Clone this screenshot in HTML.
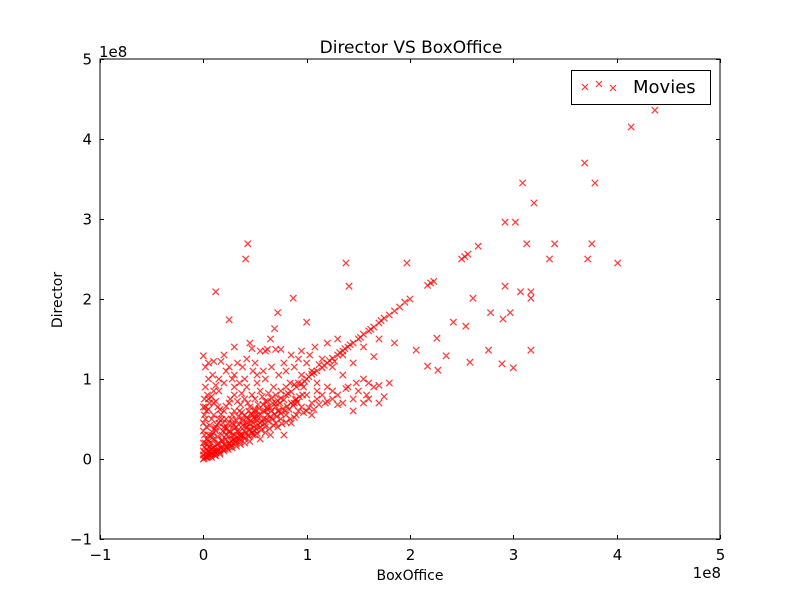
<!DOCTYPE html>
<html><head><meta charset="utf-8"><style>
html,body{margin:0;padding:0;background:#fff;}
svg{display:block;font-family:"DejaVu Sans","Liberation Sans",sans-serif;}
</style></head><body>
<svg id="chart" width="800" height="600" viewBox="0 0 800 600">
<rect x="0" y="0" width="800" height="600" fill="#fff"/>
<text x="411" y="53" font-size="17" text-anchor="middle">Director VS BoxOffice</text>
<text x="410" y="580" font-size="14" text-anchor="middle">BoxOffice</text>
<text x="62" y="300" font-size="14" text-anchor="middle" transform="rotate(-90 62 300)">Director</text>
<text x="99" y="57" font-size="15">1e8</text>
<text x="721" y="578" font-size="15" text-anchor="end">1e8</text>
<g id="marks"></g>
<g id="axes"></g>
<g>
<rect x="571.5" y="70.5" width="139" height="34" fill="#fff" stroke="#000" stroke-width="1"/>
<g stroke="#f00" stroke-opacity="0.8" stroke-width="1.2">
<path d="M582 84l6 6M588 84l-6 6M596 81l6 6M602 81l-6 6M610 85l6 6M616 85l-6 6"/>
</g>
<text x="633" y="93" font-size="18">Movies</text>
</g>
</svg>
<script>
const xTicks=[-1,0,1,2,3,4,5];
const yTicks=[-1,0,1,2,3,4,5];
const boxOffice=[4.37,4.14,3.69,3.09,3.79,3.20,2.92,3.02,3.40,3.13,3.76,3.35,3.72,4.01,2.66,0.43,0.41,1.38,1.97,2.92,3.17,3.07,2.90,2.97,3.17,2.61,2.78,0.12,0.87,1.41,2.54,2.42,2.26,2.35,2.58,2.76,3.17,2.89,3.00,2.17,2.27,2.06,0.25,0.72,0.69,1.00,2.50,2.53,2.56,2.2,2.17,2.23,2.0,1.95,
0.3,0.35,0.4,0.45,0.5,0.55,0.6,0.65,0.7,0.75,0.8,0.85,0.9,0.95,1.0,1.05,1.1,1.15,1.2,1.25,1.3,1.35,1.4,1.45,1.5,1.55,1.6,1.65,1.7,1.75,1.8,1.85,1.9,0.92,0.98,1.12,0.88,
0.0,0.02,0.05,0.1,0.17,0.22,0.3,0.38,0.45,0.47,0.55,0.6,0.62,0.7,0.75,0.65,0.4,0.28,0.12,0.35,0.52,0.85,0.92,1.0,1.08,1.2,1.3,1.35,1.45,1.55,1.7,1.65,1.55,1.6,1.7,1.85,1.05,1.1,0.95,0.3,0.2,0.5,0.78,1.35,1.15,1.25,
0.5,0.6,0.7,0.75,0.8,0.9,1.0,1.05,1.1,1.2,1.3,1.35,1.45,1.5,1.6,1.7,1.75,1.4,1.25,1.15,1.05,0.95,0.85,0.65,0.55,0.45,1.45,1.3,0.78,0.88,
0.2,0.1,0.05,0.15,0.25,0.3,0.35,0.4,0.45,0.5,0.55,0.6,0.68,0.72,0.3,0.2,0.08,0.12,0.18,0.28,0.38,0.42,0.48,0.58,0.62,0.05,0.02,0.08,0.7,0.9,
0,0.01,0.02,0.03,0.05,0.04,0.08,0.1,0.12,0.06,0.15,0.15,0.2,0.22,0.25,0.1,0.05,0.02,0.18,0.28,0.3,0.35,0.25,0.12,0.2,0.32,0.4,0.38,0.28,0.15,0.03,0.0,0.0,0.01,0.02,0.08,0.13,0.18,0.24,0.27,0.33,0.36,0.42,0.45,0.48,0.52,0.55,0.58,0.62,0.66,0.07,0.11,0.16,0.21,0.26,0.31,0.35,0.4,0.04,0.09,0.14,0.19,0.23,0.0,0.01,0.03,0.06,0.1,0.16,0.22,0.3,0.36,0.44,0.5,0.02,0.04,0.1,0.5,
0.05,0.07,0.09,0.11,0.13,0.15,0.17,0.19,0.21,0.23,0.25,0.27,0.29,0.31,0.33,0.35,0.37,0.39,0.41,0.43,0.45,0.47,0.49,0.51,0.53,0.55,0.57,0.59,0.61,0.63,0.65,0.67,0.69,0.71,0.73,0.75,0.77,0.79,0.81,0.83,0.85,0.87,0.89,0.91,0.93,0.96,
0.06,0.1,0.14,0.18,0.22,0.26,0.3,0.34,0.38,0.42,0.46,0.5,0.54,0.58,0.62,0.66,0.7,0.74,0.78,
0.02,0.03,0.04,0.05,0.07,0.09,0.11,0.13,0.15,0.17,0.19,0.21,0.24,0.27,0.29,0.32,0.34,0.37,0.4,0.43,0.46,0.49,0.52,
0.0,0.0,0.01,0.0,0.01,0.03,0.06,0.08,0.12,0.14,0.22,0.26,0.33,0.37,0.43,0.47,0.53,0.57,0.63,0.67,0.75,0.8,0.84,
0.08,0.12,0.16,0.2,0.24,0.28,0.32,0.36,0.4,0.44,0.48,0.52,0.56,0.6,0.64,0.68,0.72,0.76,0.8,0.84,0.88,0.92,0.97,1.02,1.07,1.12,1.18,
0.05,0.09,0.15,0.25,0.33,0.42,0.58,0.66,0.73,0.8,0.88,0.95,1.03,0.52,0.6,0.42,0.48,
1.02,1.07,1.17,1.22,1.32,1.42,1.52,1.62,1.72,0.82,0.72,0.62,0.52,1.27,1.37,
1.25,1.38,1.48,1.55,1.65,1.58,1.8,1.2,1.1,1.0,0.97];
const director=[4.36,4.15,3.70,3.45,3.45,3.20,2.96,2.96,2.69,2.69,2.69,2.50,2.50,2.45,2.66,2.69,2.50,2.45,2.45,2.16,2.09,2.09,1.75,1.83,2.01,2.01,1.83,2.09,2.01,2.16,1.66,1.71,1.51,1.29,1.21,1.36,1.36,1.19,1.14,1.16,1.11,1.36,1.74,1.83,1.63,1.71,2.50,2.53,2.56,2.2,2.17,2.22,2.0,1.96,
0.3,0.34,0.41,0.44,0.5,0.56,0.6,0.64,0.7,0.76,0.8,0.84,0.9,0.94,1.0,1.06,1.1,1.14,1.2,1.26,1.3,1.35,1.4,1.45,1.5,1.56,1.6,1.65,1.7,1.76,1.8,1.85,1.9,0.95,0.97,1.18,0.93,
1.29,1.15,1.2,1.22,1.22,1.1,1.05,1.15,1.45,1.38,1.35,1.35,1.37,1.37,1.37,1.5,1.0,1.0,0.92,0.95,1.05,1.3,1.25,1.2,1.4,1.45,1.5,1.3,1.2,1.4,1.5,1.28,1.0,0.95,0.92,1.45,1.1,0.95,1.05,1.4,1.3,1.2,1.2,1.05,1.25,1.15,
0.35,0.4,0.45,0.5,0.55,0.55,0.6,0.7,0.75,0.72,0.68,0.7,0.75,0.85,0.75,0.7,0.78,0.9,0.85,0.8,0.55,0.65,0.45,0.3,0.25,0.22,0.6,0.8,0.3,0.7,
0.6,0.7,0.75,0.85,0.7,0.8,0.6,0.75,0.65,0.75,0.85,0.72,0.9,0.6,0.9,0.95,0.5,0.4,0.5,0.55,0.5,0.45,0.55,0.5,0.55,0.62,0.9,0.3,0.8,0.75,
0,0.01,0.03,0.02,0.05,0.1,0.06,0.1,0.08,0.15,0.12,0.2,0.18,0.25,0.2,0.25,0.3,0.2,0.3,0.3,0.25,0.3,0.35,0.35,0.4,0.4,0.35,0.42,0.45,0.45,0.4,0.1,0.2,0.3,0.5,0.2,0.18,0.22,0.28,0.22,0.35,0.28,0.4,0.38,0.45,0.48,0.45,0.6,0.65,0.6,0.12,0.05,0.08,0.12,0.15,0.2,0.22,0.25,0.02,0.14,0.28,0.35,0.38,0.05,0.15,0.25,0.42,0.55,0.62,0.5,0.6,0.68,0.6,0.62,0.65,0.8,0.85,0.3,
0.03,0.05,0.07,0.09,0.11,0.1,0.14,0.12,0.17,0.15,0.19,0.18,0.24,0.22,0.27,0.25,0.3,0.28,0.33,0.3,0.36,0.33,0.4,0.38,0.43,0.4,0.47,0.44,0.5,0.47,0.53,0.5,0.56,0.53,0.6,0.57,0.63,0.6,0.66,0.62,0.7,0.67,0.74,0.71,0.78,0.8,
0.09,0.14,0.19,0.24,0.3,0.34,0.38,0.43,0.47,0.52,0.56,0.6,0.63,0.68,0.72,0.76,0.66,0.7,0.74,
0.07,0.12,0.18,0.22,0.28,0.33,0.38,0.43,0.5,0.56,0.45,0.38,0.44,0.5,0.42,0.48,0.53,0.58,0.55,0.5,0.48,0.52,0.55,
0.35,0.45,0.55,0.65,0.75,0.6,0.7,0.78,0.72,0.65,0.66,0.75,0.72,0.82,0.7,0.8,0.68,0.78,0.82,0.7,0.85,0.9,0.95,
0.02,0.04,0.06,0.1,0.12,0.14,0.16,0.18,0.2,0.28,0.3,0.32,0.36,0.33,0.38,0.42,0.4,0.44,0.46,0.5,0.52,0.6,0.58,0.64,0.62,0.68,0.7,
1.0,1.05,1.0,1.15,1.2,1.25,1.1,1.15,1.05,1.1,1.15,1.35,1.3,0.95,1.0,0.9,1.1,
1.03,1.08,1.17,1.23,1.33,1.43,1.52,1.62,1.73,0.82,0.73,0.62,0.52,1.22,1.38,
0.75,0.88,0.95,0.7,0.9,0.8,0.95,0.9,0.85,0.8,0.9];
const NS="http://www.w3.org/2000/svg";
const L=100,R=720,T=59,B=539;
function sx(v){return L+(v-xTicks[0])/(xTicks[xTicks.length-1]-xTicks[0])*(R-L);}
function sy(v){return B-(v-yTicks[0])/(yTicks[yTicks.length-1]-yTicks[0])*(B-T);}
const marks=document.getElementById('marks');
const n=Math.min(boxOffice.length,director.length);
for(let i=0;i<n;i++){
  const x=sx(boxOffice[i]),y=sy(director[i]);
  const p=document.createElementNS(NS,'path');
  p.setAttribute('d',`M${x-3.2} ${y-3.2}L${x+3.2} ${y+3.2}M${x+3.2} ${y-3.2}L${x-3.2} ${y+3.2}`);
  p.setAttribute('stroke','#f00');
  p.setAttribute('stroke-opacity','0.75');
  p.setAttribute('stroke-width','1.3');
  
  
  marks.appendChild(p);
}
const axes=document.getElementById('axes');
function add(tag,attrs,name,text){
  const e=document.createElementNS(NS,tag);
  for(const k in attrs)e.setAttribute(k,attrs[k]);
  
  
  if(text!==undefined)e.textContent=text;
  axes.appendChild(e);return e;
}
add('rect',{x:L,y:T,width:R-L,height:B-T,fill:'none',stroke:'#000','stroke-width':1},'plot-frame');
xTicks.forEach(t=>{
  const x=Math.round(sx(t))+0.5;
  add('path',{d:`M${x} ${B}v-4M${x} ${T}v4`,stroke:'#000'},'x-tick');
  add('text',{x:x,y:B+21,'font-size':15,'text-anchor':'middle'},'x-tick-label',t<0?'\u2212'+(-t):String(t));
});
yTicks.forEach(t=>{
  const y=Math.round(sy(t))+0.5;
  add('path',{d:`M${L} ${y}h4M${R} ${y}h-4`,stroke:'#000'},'y-tick');
  add('text',{x:L-8,y:y+5,'font-size':15,'text-anchor':'end'},'y-tick-label',t<0?'\u2212'+(-t):String(t));
});
</script>
</body></html>
